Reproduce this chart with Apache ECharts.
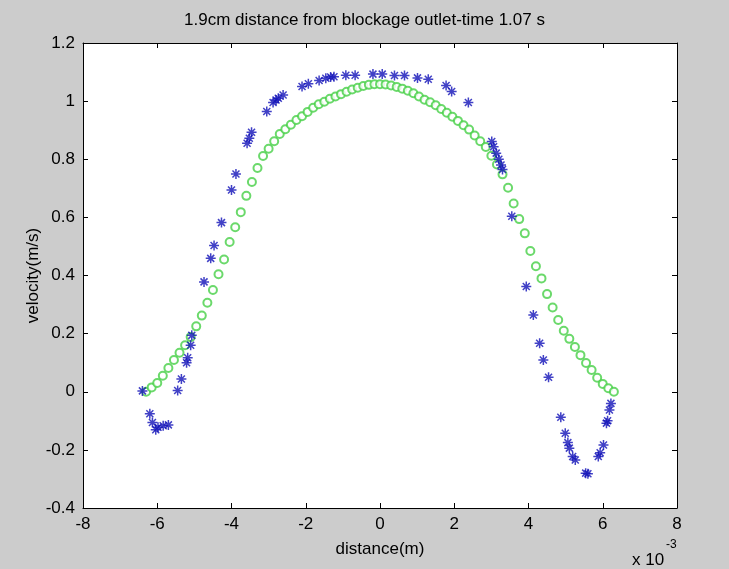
<!DOCTYPE html>
<html>
<head>
<meta charset="utf-8">
<script src="https://cdn.jsdelivr.net/npm/echarts@6/dist/echarts.min.js"></script>
<style>
  html, body { margin: 0; padding: 0; background: #cccccc; }
  #chart { width: 729px; height: 569px; }
</style>
</head>
<body>
<div id="chart"></div>
<script>
// Title and axis captions
const chartTitle = '1.9cm distance from blockage outlet-time 1.07 s';
const xAxisCaption = 'distance(m)';
const yAxisCaption = 'velocity(m/s)';

// Axis ranges (distance in units of 1e-3 m)
const xRange = [-8, 8];
const xStep = 2;
const yRange = [-0.4, 1.2];
const yStep = 0.2;

// Computed velocity profile (green circles)
const profileX = [
  -6.30, -6.15, -6.00, -5.85, -5.70, -5.55, -5.40, -5.25, -5.10, -4.95,
  -4.80, -4.65, -4.50, -4.35, -4.20, -4.05, -3.90, -3.75, -3.60, -3.45,
  -3.30, -3.15, -3.00, -2.85, -2.70, -2.55, -2.40, -2.25, -2.10, -1.95,
  -1.80, -1.65, -1.50, -1.35, -1.20, -1.05, -0.90, -0.75, -0.60, -0.45,
  -0.30, -0.15, 0.00, 0.15, 0.30, 0.45, 0.60, 0.75, 0.90, 1.05,
  1.20, 1.35, 1.50, 1.65, 1.80, 1.95, 2.10, 2.25, 2.40, 2.55,
  2.70, 2.85, 3.00, 3.15, 3.30, 3.45, 3.60, 3.75, 3.90, 4.05,
  4.20, 4.35, 4.50, 4.65, 4.80, 4.95, 5.10, 5.25, 5.40, 5.55,
  5.70, 5.85, 6.00, 6.15, 6.30
];
const profileV = [
  0.000, 0.015, 0.030, 0.055, 0.082, 0.109, 0.134, 0.160, 0.188, 0.225,
  0.262, 0.306, 0.350, 0.404, 0.455, 0.515, 0.566, 0.618, 0.674, 0.722,
  0.770, 0.811, 0.836, 0.862, 0.887, 0.903, 0.919, 0.935, 0.948, 0.963,
  0.977, 0.989, 0.998, 1.008, 1.016, 1.024, 1.032, 1.040, 1.046, 1.052,
  1.056, 1.058, 1.058, 1.057, 1.054, 1.049, 1.043, 1.036, 1.027, 1.016,
  1.005, 0.996, 0.986, 0.973, 0.960, 0.946, 0.932, 0.917, 0.902, 0.882,
  0.862, 0.842, 0.812, 0.782, 0.748, 0.702, 0.648, 0.594, 0.545, 0.484,
  0.432, 0.390, 0.336, 0.290, 0.247, 0.210, 0.182, 0.154, 0.126, 0.099,
  0.075, 0.048, 0.027, 0.012, 0.000
];

// Measured velocity samples (blue asterisks)
const measuredX = [
  -6.40, -6.20, -6.13, -6.04, -5.98, -5.84, -5.70, -5.45, -5.35, -5.21,
  -5.18, -5.10, -5.07, -4.74, -4.56, -4.47, -4.27, -4.00, -3.88, -3.58,
  -3.52, -3.46, -3.05, -2.88, -2.80, -2.74, -2.61, -2.10, -1.93, -1.64,
  -1.46, -1.33, -1.24, -0.92, -0.67, -0.19, 0.06, 0.39, 0.66, 1.01,
  1.30, 1.78, 1.93, 2.38, 3.01, 3.06, 3.13, 3.20, 3.26, 3.30,
  3.55, 3.94, 4.13, 4.30, 4.40, 4.54, 4.87, 4.99, 5.06, 5.10,
  5.19, 5.26, 5.54, 5.60, 5.88, 5.93, 6.02, 6.10, 6.13, 6.18,
  6.22
];
const measuredV = [
  0.003, -0.076, -0.106, -0.131, -0.122, -0.117, -0.114, 0.004, 0.044, 0.100,
  0.117, 0.160, 0.194, 0.378, 0.459, 0.503, 0.582, 0.694, 0.749, 0.855,
  0.872, 0.893, 0.964, 0.995, 1.004, 1.010, 1.021, 1.050, 1.060, 1.071,
  1.079, 1.083, 1.084, 1.089, 1.089, 1.093, 1.093, 1.088, 1.088, 1.080,
  1.075, 1.054, 1.033, 0.995, 0.861, 0.843, 0.821, 0.800, 0.780, 0.765,
  0.604, 0.362, 0.264, 0.167, 0.109, 0.050, -0.088, -0.143, -0.175, -0.194,
  -0.223, -0.235, -0.280, -0.282, -0.223, -0.210, -0.183, -0.108, -0.100, -0.063,
  -0.040
];

const font = '"Liberation Sans", Arial, sans-serif';
const asterisk = 'path://M10,0L10,20M0,10L20,10M3,3L17,17M3,17L17,3';

const zip = (xs, ys) => xs.map((x, i) => [x, ys[i]]);

function valueAxis(range, step, position, showLabels) {
  return {
    type: 'value',
    position: position,
    min: range[0],
    max: range[1],
    interval: step,
    axisLine: { show: true, onZero: false, lineStyle: { color: '#000', width: 1 } },
    axisTick: { show: true, inside: true, length: 5, lineStyle: { color: '#000' } },
    axisLabel: {
      show: showLabels,
      color: '#000',
      fontFamily: font,
      fontSize: 17,
      margin: 8
    },
    splitLine: { show: false }
  };
}

const chart = echarts.init(document.getElementById('chart'), null, { renderer: 'canvas' });

const xBottom = valueAxis(xRange, xStep, 'bottom', true);
xBottom.name = xAxisCaption;
xBottom.nameLocation = 'middle';
xBottom.nameGap = 33;
xBottom.nameMoveOverlap = false;
xBottom.nameTextStyle = { color: '#000', fontFamily: font, fontSize: 17 };

const yLeft = valueAxis(yRange, yStep, 'left', true);
yLeft.name = yAxisCaption;
yLeft.nameLocation = 'middle';
yLeft.nameGap = 41;
yLeft.nameMoveOverlap = false;
yLeft.nameTextStyle = { color: '#000', fontFamily: font, fontSize: 17 };

chart.setOption({
  backgroundColor: '#cccccc',
  animation: false,
  title: {
    text: chartTitle,
    left: 'center',
    top: 7,
    textStyle: { color: '#000', fontFamily: font, fontSize: 17, fontWeight: 'normal' }
  },
  grid: { left: 83, top: 43, width: 594, height: 465, backgroundColor: '#ffffff', show: true, borderWidth: 0 },
  xAxis: [xBottom, valueAxis(xRange, xStep, 'top', false)],
  yAxis: [yLeft, valueAxis(yRange, yStep, 'right', false)],
  graphic: [
    {
      type: 'text', left: 632, top: 552,
      style: { text: 'x 10', fill: '#000', font: '17px ' + font }
    },
    {
      type: 'text', left: 666, top: 539,
      style: { text: '-3', fill: '#000', font: '12px ' + font }
    }
  ],
  series: [
    {
      name: 'profile',
      type: 'scatter',
      xAxisIndex: 0,
      yAxisIndex: 0,
      data: zip(profileX, profileV),
      symbol: 'emptyCircle',
      symbolSize: 8,
      itemStyle: { color: '#46d046', borderColor: '#46d046', borderWidth: 1.1 },
      z: 2
    },
    {
      name: 'measured',
      type: 'scatter',
      xAxisIndex: 0,
      yAxisIndex: 0,
      data: zip(measuredX, measuredV),
      symbol: asterisk,
      symbolSize: 10,
      itemStyle: { color: 'transparent', borderColor: '#1212b8', borderWidth: 1.5 },
      z: 3
    }
  ]
});
</script>
</body>
</html>
